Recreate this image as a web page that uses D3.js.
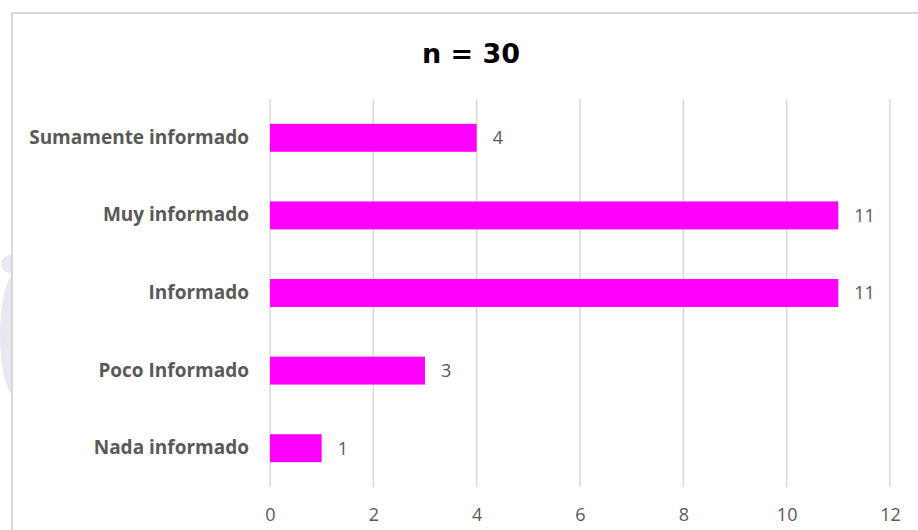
<!DOCTYPE html>
<html>
<head>
<meta charset="utf-8">
<script src="https://cdn.jsdelivr.net/npm/d3@7"></script>
<style>
  html, body { margin: 0; padding: 0; background: #fff; }
  svg { display: block; }
</style>
</head>
<body>
<svg id="chart" width="918" height="530"></svg>
<script>
const categories = ["Sumamente informado", "Muy informado", "Informado", "Poco Informado", "Nada informado"];
const values = [4, 11, 11, 3, 1];
const xTicks = [0, 2, 4, 6, 8, 10, 12];
const title = "n = 30";

const svg = d3.select("#chart");
const margin = { top: 99, bottom: 43, left: 270, right: 28 };
const width = 918, height = 530;

// faint watermark on the far left, outside the chart frame
svg.append("clipPath").attr("id", "wm")
  .append("rect").attr("x", 0).attr("y", 0).attr("width", 11).attr("height", height);
const wm = svg.append("g").attr("clip-path", "url(#wm)").attr("fill", "#ebe7f2");
wm.append("circle").attr("cx", 10).attr("cy", 264).attr("r", 9);
wm.append("ellipse").attr("cx", 16).attr("cy", 335).attr("rx", 16).attr("ry", 62);

// chart frame
svg.append("path")
  .attr("d", `M${12},${height} L${12},${13} L${width},${13}`)
  .attr("fill", "none")
  .attr("stroke", "#d9d9d9")
  .attr("stroke-width", 2);

let x = d3.scaleLinear()
  .domain([0, 12])
  .range([margin.left, width - margin.right]);

let y = d3.scaleBand()
  .domain(categories)
  .range([margin.top, height - margin.bottom])
  .paddingInner(0.64)
  .paddingOuter(0.32);

// vertical gridlines
svg.append("g")
  .selectAll("line")
  .data(xTicks)
  .enter()
  .append("line")
  .attr("x1", (d) => x(d))
  .attr("x2", (d) => x(d))
  .attr("y1", margin.top)
  .attr("y2", height - margin.bottom)
  .attr("stroke", "#d9d9d9")
  .attr("stroke-width", 1.5);

// x axis tick labels
svg.append("g")
  .attr("transform", `translate(0,${height - margin.bottom})`)
  .call(d3.axisBottom(x).tickValues(xTicks).tickSize(0).tickPadding(21))
  .call((g) => g.select(".domain").remove())
  .selectAll("text")
  .attr("font-family", "'Open Sans', sans-serif")
  .attr("font-size", "18px")
  .attr("fill", "#595959");

// y axis category labels
svg.append("g")
  .attr("transform", `translate(${margin.left},0)`)
  .call(d3.axisLeft(y).tickSize(0).tickPadding(21))
  .call((g) => g.select(".domain").remove())
  .selectAll("text")
  .attr("font-family", "'Open Sans', sans-serif")
  .attr("font-weight", "bold")
  .attr("font-size", "19px")
  .attr("fill", "#595959");

// bars
svg.append("g")
  .selectAll(".bar")
  .data(values)
  .enter()
  .append("rect")
  .attr("class", "bar")
  .attr("x", x(0))
  .attr("y", (d, i) => y(categories[i]))
  .attr("width", (d) => x(d) - x(0))
  .attr("height", y.bandwidth())
  .attr("fill", "#ff00ff");

// value labels
svg.append("g")
  .selectAll("text")
  .data(values)
  .enter()
  .append("text")
  .attr("x", (d) => x(d) + 16)
  .attr("y", (d, i) => y(categories[i]) + y.bandwidth() / 2)
  .attr("dy", "0.35em")
  .attr("font-family", "'Open Sans', sans-serif")
  .attr("font-size", "18px")
  .attr("fill", "#595959")
  .text((d) => d);

// title
svg.append("text")
  .attr("x", 471)
  .attr("y", 63)
  .attr("text-anchor", "middle")
  .attr("font-family", "'DejaVu Sans', sans-serif")
  .attr("font-weight", "bold")
  .attr("font-size", "27px")
  .attr("fill", "#000")
  .text(title);
</script>
</body>
</html>
